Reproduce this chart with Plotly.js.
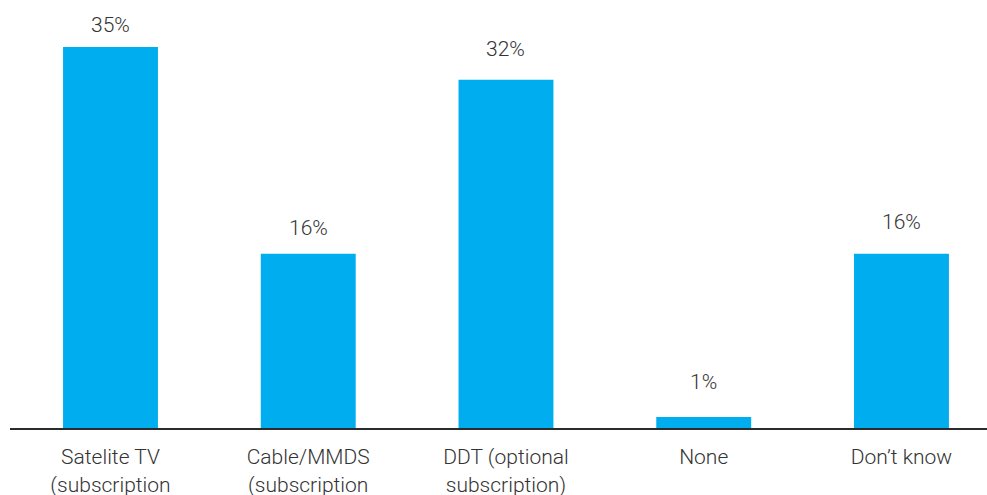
<!DOCTYPE html>
<html>
<head>
<meta charset="utf-8">
<script src="https://cdn.plot.ly/plotly-3.0.1.min.js"></script>
<style>
  html, body { margin: 0; padding: 0; background: #fff; }
  #chart { width: 987px; height: 495px; }
</style>
</head>
<body>
<div id="chart"></div>
<script>
// TV platform shares (percent of respondents)
const categories = [
  'Satelite TV<br>(subscription',
  'Cable/MMDS<br>(subscription',
  'DDT (optional<br>subscription)',
  'None',
  'Don’t know'
];
const shares = [35, 16, 32, 1, 16];
const valueLabels = ['35%', '16%', '32%', '1%', '16%'];

// vertical gap (px) between each value label and its bar
const labelGap = [8, 12, 17, 21, 18];

const textFont = { family: 'Roboto, Liberation Sans, Arial, sans-serif', size: 21, weight: 300, color: '#333333' };

const trace = {
  type: 'bar',
  x: categories,
  y: shares,
  marker: { color: '#00AEEF', line: { width: 0 } },
  hoverinfo: 'skip'
};

const annotations = categories.map((c, i) => ({
  x: c,
  y: shares[i],
  xref: 'x',
  yref: 'y',
  text: valueLabels[i],
  showarrow: false,
  yanchor: 'bottom',
  yshift: labelGap[i],
  font: textFont
}));

const layout = {
  width: 987,
  height: 495,
  margin: { l: 10, r: 0, t: 0, b: 67, pad: 0 },
  paper_bgcolor: '#ffffff',
  plot_bgcolor: '#ffffff',
  showlegend: false,
  bargap: 0.52,
  xaxis: {
    type: 'category',
    range: [-0.5082, 4.4325],
    showline: true,
    linecolor: '#2b2b2b',
    linewidth: 2,
    ticks: '',
    ticklabelstandoff: 9,
    showgrid: false,
    zeroline: false,
    tickfont: textFont,
    automargin: false,
    fixedrange: true
  },
  yaxis: {
    range: [0, 39.32],
    visible: false,
    showgrid: false,
    zeroline: false,
    fixedrange: true
  },
  annotations: annotations
};

Plotly.newPlot('chart', [trace], layout, { displayModeBar: false, staticPlot: true });
</script>
</body>
</html>
